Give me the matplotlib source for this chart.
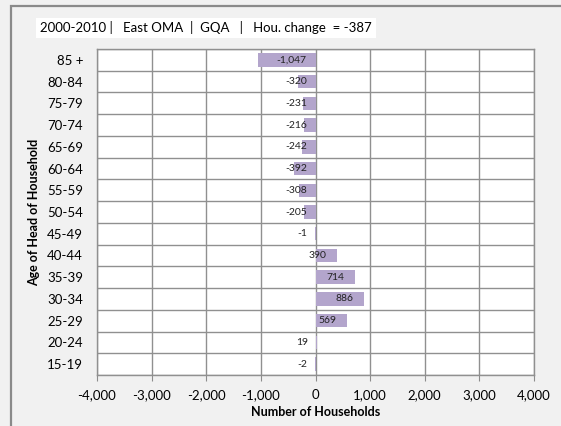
import numpy as np
import matplotlib.pyplot as plt
from matplotlib.patches import Rectangle

# data
ages = ['15-19', '20-24', '25-29', '30-34', '35-39', '40-44', '45-49', '50-54',
        '55-59', '60-64', '65-69', '70-74', '75-79', '80-84', '85 +']
change = [-2, 19, 569, 886, 714, 390, -1, -205, -308, -392, -242, -216, -231, -320, -1047]
title_txt = '2000-2010 |   East OMA  |  GQA   |   Hou. change  = -387'

plt.rcParams['font.family'] = ['Lato', 'DejaVu Sans']

fig = plt.figure(figsize=(5.61, 4.26), dpi=100)
fig.patch.set_facecolor('#f1f1f1')

# outer frame (left/top edge visible)
fig.add_artist(Rectangle((11/561, -0.05), 1.2, 1 - 6/426 + 0.05, transform=fig.transFigure,
                         fill=False, edgecolor='#8a8a8a', linewidth=1.6))

ax = fig.add_axes([97/561, 1 - 375/426, 437/561, (375 - 49)/426])
ax.set_facecolor('white')

y = np.arange(len(ages))
ax.barh(y, change, height=0.62, color='#b3a5cc', zorder=3)

ax.set_xlim(-4000, 4000)
ax.set_ylim(-0.5, len(ages) - 0.5)
ax.set_xticks(np.arange(-4000, 4001, 1000))
ax.set_xticklabels(['{:,}'.format(v) for v in range(-4000, 4001, 1000)], fontsize=9.5)
ax.set_yticks(y)
ax.set_yticklabels(ages, fontsize=9.5)
ax.set_yticks(np.arange(-0.5, len(ages), 1), minor=True)
ax.tick_params(axis='y', which='major', length=0, pad=10)
ax.tick_params(axis='y', which='minor', length=0)
ax.tick_params(axis='x', length=4, color='#8c8c8c', pad=6)
ax.grid(axis='x', which='major', color='#909090', linewidth=1.0, zorder=1)
ax.grid(axis='y', which='minor', color='#909090', linewidth=1.0, zorder=1)
for s in ax.spines.values():
    s.set_color('#909090')
    s.set_linewidth(1.0)

# value labels
for yi, v in zip(y, change):
    lbl = '{:,}'.format(v)
    if v >= 100:
        ax.text(v - 190, yi, lbl, ha='right', va='center', fontsize=7.5, color='#222222', zorder=4)
    elif v > -10:
        ax.text(-250, yi, lbl, ha='center', va='center', fontsize=7.5, color='#222222', zorder=4)
    else:
        ax.text(-160, yi, lbl, ha='right', va='center', fontsize=7.5, color='#222222', zorder=4)

ax.set_xlabel('Number of Households', fontsize=9, fontweight='bold', labelpad=4)
ax.set_ylabel('Age of Head of Household', fontsize=9, fontweight='bold', labelpad=5)

fig.text(40/561, 1 - 28/426, title_txt, fontsize=9.5, ha='left', va='center',
         bbox=dict(boxstyle='square,pad=0.3', facecolor='white', edgecolor='none'))

fig.savefig('out.png', dpi=100, facecolor=fig.get_facecolor())
